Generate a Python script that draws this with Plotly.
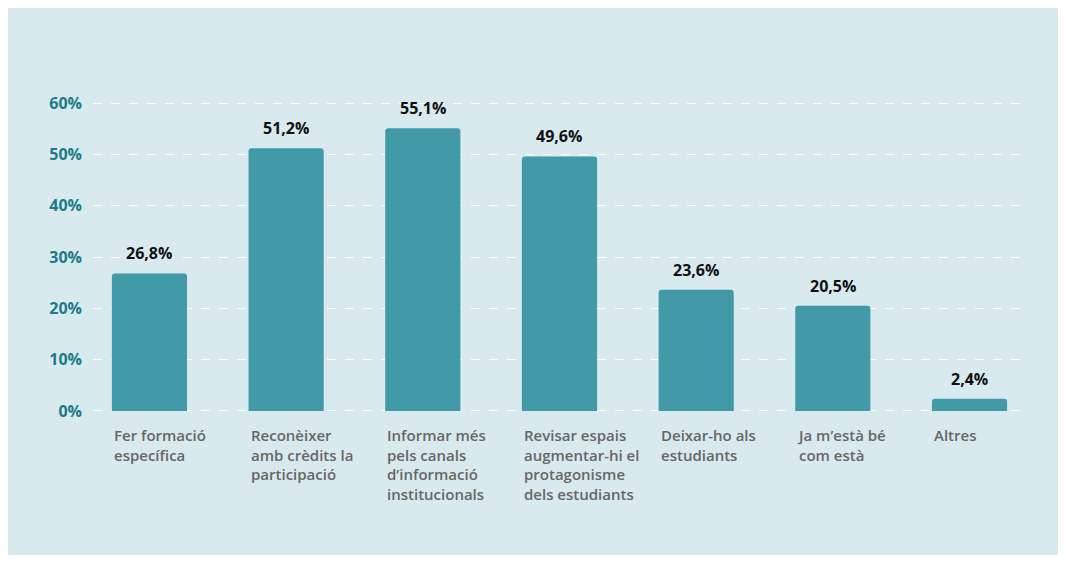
import plotly.graph_objects as go

categories = [
    "Fer formació<br>específica",
    "Reconèixer<br>amb crèdits la<br>participació",
    "Informar més<br>pels canals<br>d’informació<br>institucionals",
    "Revisar espais<br>augmentar-hi el<br>protagonisme<br>dels estudiants",
    "Deixar-ho als<br>estudiants",
    "Ja m’està bé<br>com està",
    "Altres",
]
values = [26.8, 51.2, 55.1, 49.6, 23.6, 20.5, 2.4]
value_labels = ["26,8%", "51,2%", "55,1%", "49,6%", "23,6%", "20,5%", "2,4%"]
tick_vals = [0, 10, 20, 30, 40, 50, 60]
tick_text = ["0%", "10%", "20%", "30%", "40%", "50%", "60%"]

BAR_COLOR = "#4299a8"
PANEL = "#d9eaee"
TEAL = "#1b7b8b"
GREY = "#666666"
BAR_W = 0.55

x = list(range(len(categories)))

fig = go.Figure()
fig.add_trace(go.Bar(
    x=x,
    y=values,
    width=BAR_W,
    marker=dict(color=BAR_COLOR, line=dict(width=0), cornerradius=3),
    hoverinfo="skip",
))

# value labels above bars
for xi, v, lab in zip(x, values, value_labels):
    fig.add_annotation(
        x=xi, y=v, text=lab, showarrow=False,
        yanchor="bottom", yshift=7,
        font=dict(family="Open Sans", size=16, color="#111111", weight=700),
    )

# category labels, left aligned under each bar
for xi, cat in zip(x, categories):
    fig.add_annotation(
        x=xi - BAR_W / 2, y=0, xref="x", yref="y", text=cat,
        showarrow=False, xanchor="left", yanchor="top", align="left",
        yshift=-12,
        font=dict(family="Open Sans", size=15, color=GREY, weight=600),
    )

# light blue panel
fig.add_shape(
    type="rect", xref="paper", yref="paper",
    x0=-0.2, x1=1.2, y0=-0.6, y1=1.5,
    fillcolor=PANEL, line=dict(width=0), layer="below",
)

fig.update_layout(
    width=1050,
    height=547,
    margin=dict(l=85, r=33, t=94, b=143),
    paper_bgcolor="white",
    plot_bgcolor="rgba(0,0,0,0)",
    showlegend=False,
    xaxis=dict(
        range=[-0.413, 6.406],
        showticklabels=False,
        showgrid=False,
        zeroline=False,
        fixedrange=True,
    ),
    yaxis=dict(
        range=[-0.2, 60.2],
        tickvals=tick_vals,
        ticktext=tick_text,
        showgrid=True,
        gridcolor="white",
        griddash="dash",
        gridwidth=1,
        zeroline=False,
        ticks="",
        ticklabelstandoff=10,
        tickfont=dict(family="Open Sans", size=16, color=TEAL, weight=700),
        fixedrange=True,
    ),
)

fig.write_html("out.html")
